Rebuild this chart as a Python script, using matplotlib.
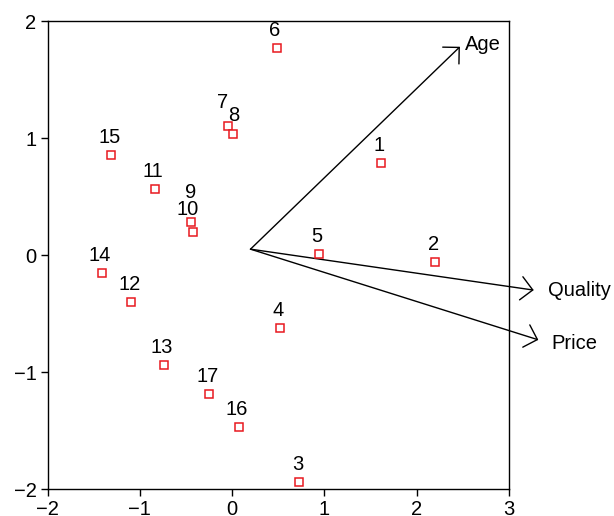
import matplotlib
matplotlib.use('Agg')
import matplotlib.pyplot as plt
from matplotlib.patches import FancyArrowPatch

plt.rcParams['font.family'] = ['Liberation Sans', 'DejaVu Sans']

# case scores
labels = ['1', '2', '3', '4', '5', '6', '7', '8', '9', '10',
          '11', '12', '13', '14', '15', '16', '17']
xs = [1.61, 2.20, 0.73, 0.515, 0.94, 0.485, -0.045, 0.015, -0.44, -0.42,
      -0.84, -1.09, -0.74, -1.41, -1.31, 0.07, -0.25]
ys = [0.79, -0.06, -1.94, -0.62, 0.01, 1.77, 1.105, 1.03, 0.285, 0.197,
      0.565, -0.40, -0.94, -0.15, 0.855, -1.47, -1.19]

# variable vectors
origin = (0.20, 0.05)
var_names = ['Age', 'Quality', 'Price']
var_x = [2.47, 3.27, 3.32]
var_y = [1.78, -0.30, -0.725]

fs = 14.5

fig = plt.figure(figsize=(6.14, 5.16), dpi=100)
ax = fig.add_axes([0.0774, 0.0523, 0.7513, 0.907])

ax.plot(xs, ys, 's', ms=5.5, mfc='white', mec='#e8191f', mew=1.1, zorder=3)

# label offsets in points, a few nudged to avoid overlap
offs = {'7': (-3.5, 16.5), '8': (0, 13.5), '9': (-0.5, 21), '10': (-4, 16)}
for lab, x, y in zip(labels, xs, ys):
    dx, dy = offs.get(lab, (-1.3, 12.5))
    ax.annotate(lab, (x, y), xytext=(dx, dy), textcoords='offset points',
                ha='center', va='center', fontsize=fs)

for name, vx, vy in zip(var_names, var_x, var_y):
    arr = FancyArrowPatch(origin, (vx, vy), arrowstyle='->,head_length=0.7,head_width=0.7',
                          mutation_scale=12, lw=1.0, color='black', clip_on=False,
                          shrinkA=0, shrinkB=0)
    ax.add_patch(arr)

ax.text(2.52, 1.80, 'Age', fontsize=fs, ha='left', va='center')
ax.text(3.42, -0.30, 'Quality', fontsize=fs, ha='left', va='center')
ax.text(3.46, -0.76, 'Price', fontsize=fs, ha='left', va='center')

ax.set_xlim(-2, 3)
ax.set_ylim(-2, 2)
ax.set_xticks([-2, -1, 0, 1, 2, 3])
ax.set_yticks([-2, -1, 0, 1, 2])
ax.tick_params(direction='out', length=5, labelsize=fs, width=1, pad=3)
for s in ax.spines.values():
    s.set_linewidth(1.0)

fig.savefig('out.png', dpi=100)
